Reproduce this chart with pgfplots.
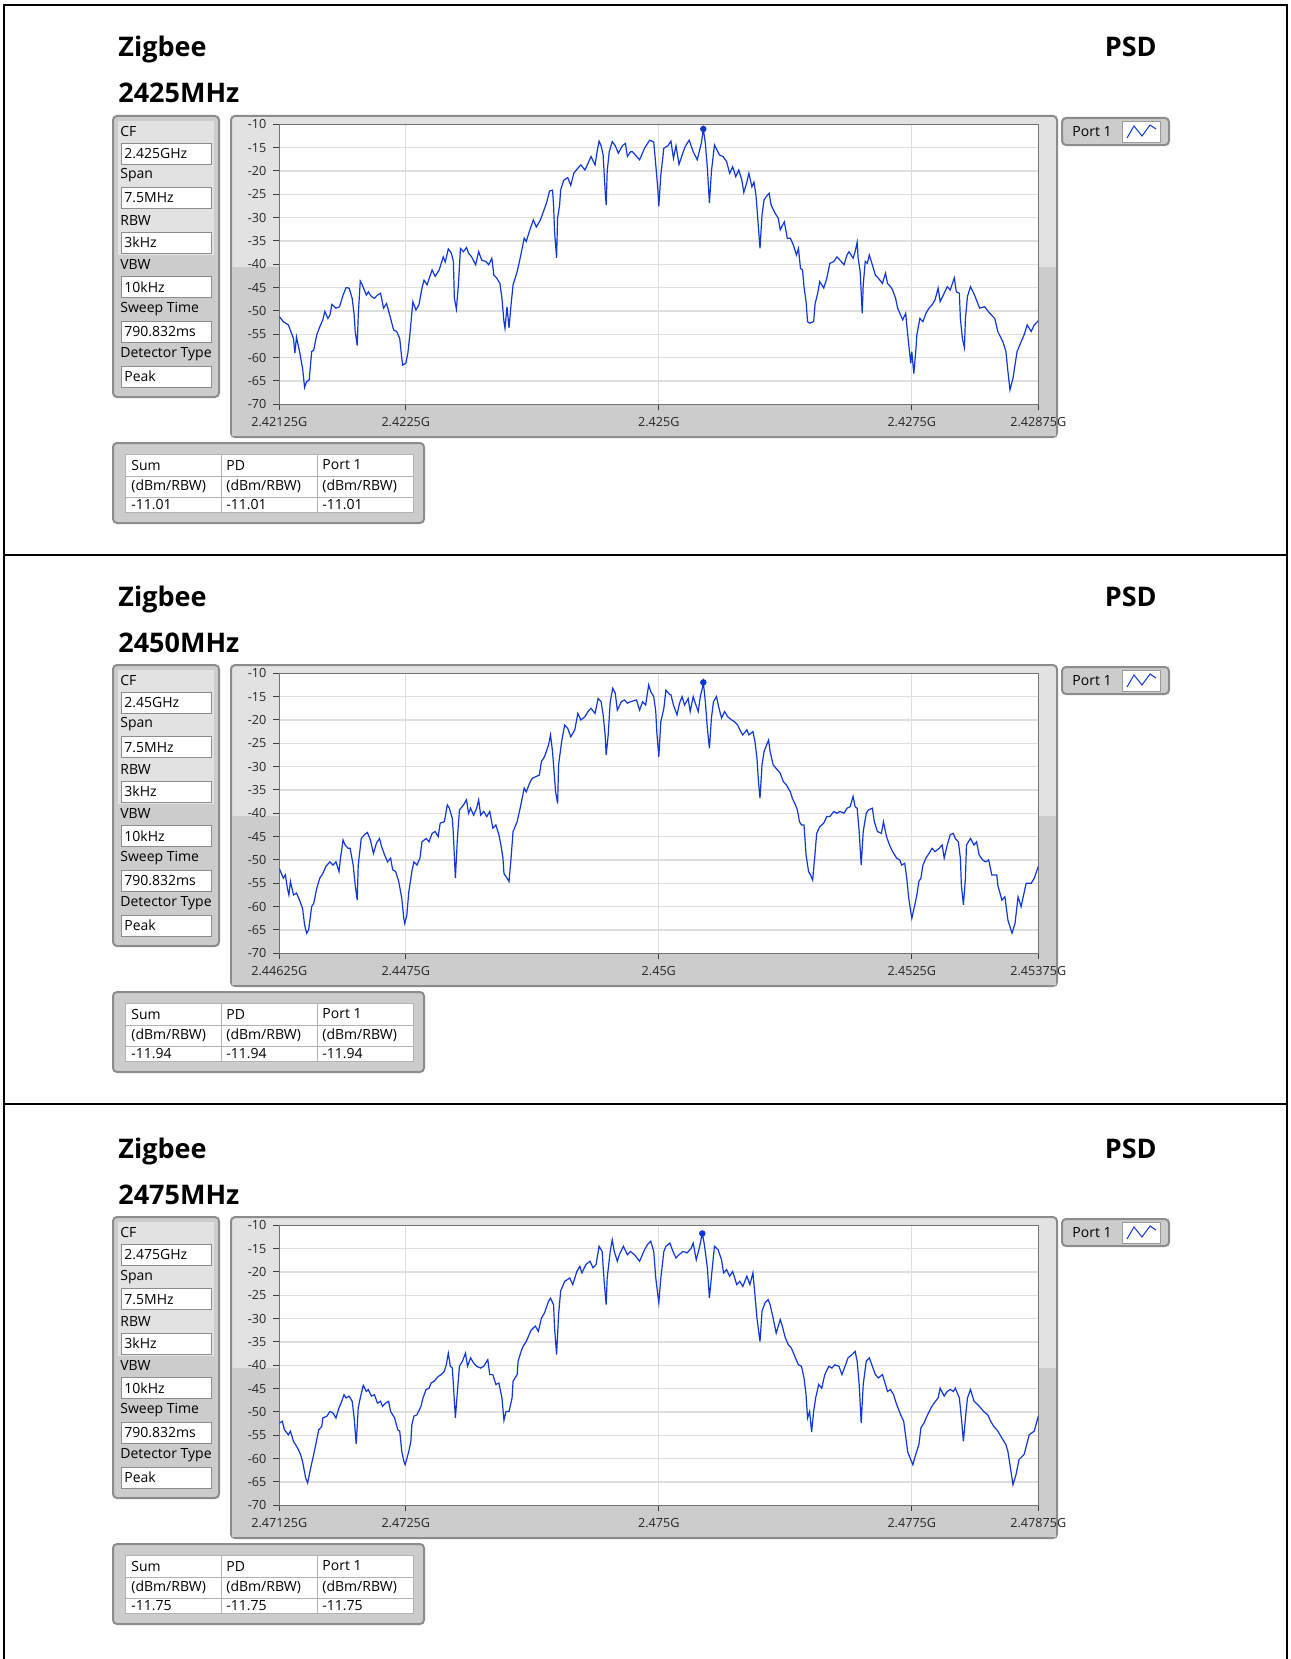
\documentclass[border=0pt]{standalone}
\usepackage{fontspec}
\setmainfont{Open Sans}
\usepackage{pgfplots}
\usepackage{pgfplotstable}
\pgfplotsset{compat=1.18}

\definecolor{trace}{RGB}{15,55,215}
\definecolor{gridc}{RGB}{222,222,222}
\definecolor{framed}{RGB}{140,140,140}
\definecolor{panlight}{RGB}{226,226,226}
\definecolor{pandark}{RGB}{204,204,204}

\newcommand{\smallf}{\fontsize{7}{8.5}\selectfont}
\newcommand{\tickf}{\fontsize{6.3}{7.5}\selectfont}
\newcommand{\titlef}{\fontsize{13.5}{16}\selectfont\bfseries}

% 2425 MHz, f = offset from CF in MHz, p = dBm/RBW
\pgfplotstableread{
f p
-3.75 -51.2
-3.71 -52.3
-3.66 -53.0
-3.61 -55.9
-3.596 -59.0
-3.58 -55.6
-3.55 -58.7
-3.52 -62.3
-3.50 -66.4
-3.48 -65.1
-3.455 -64.8
-3.43 -58.7
-3.41 -58.4
-3.38 -55.1
-3.35 -53.4
-3.32 -51.9
-3.30 -50.1
-3.27 -51.6
-3.25 -50.9
-3.23 -48.6
-3.19 -49.4
-3.155 -49.1
-3.12 -46.6
-3.09 -45.0
-3.06 -45.1
-3.03 -47.3
-3.01 -50.9
-3.00 -54.4
-2.98 -57.4
-2.97 -50.9
-2.95 -43.6
-2.93 -44.4
-2.89 -46.6
-2.87 -45.9
-2.84 -46.9
-2.81 -47.3
-2.78 -46.6
-2.75 -46.2
-2.72 -49.4
-2.69 -48.4
-2.65 -51.6
-2.62 -54.1
-2.59 -54.4
-2.56 -55.9
-2.54 -60.1
-2.53 -61.6
-2.50 -61.2
-2.48 -59.1
-2.46 -55.1
-2.43 -48.0
-2.40 -49.8
-2.37 -48.7
-2.34 -45.1
-2.32 -43.4
-2.29 -44.4
-2.24 -41.2
-2.21 -42.6
-2.17 -41.2
-2.13 -38.4
-2.11 -39.5
-2.08 -36.7
-2.05 -37.6
-2.03 -39.4
-2.02 -47.3
-2.00 -49.6
-1.98 -44.4
-1.96 -36.6
-1.93 -37.3
-1.90 -36.4
-1.88 -37.6
-1.85 -38.4
-1.81 -40.1
-1.78 -37.3
-1.75 -39.1
-1.71 -39.4
-1.68 -40.1
-1.65 -38.7
-1.63 -42.3
-1.60 -43.0
-1.57 -44.1
-1.55 -47.3
-1.53 -52.3
-1.52 -53.7
-1.50 -49.1
-1.48 -53.6
-1.46 -48.7
-1.44 -44.4
-1.40 -41.6
-1.37 -38.7
-1.33 -34.4
-1.31 -35.1
-1.28 -33.0
-1.24 -30.5
-1.21 -32.0
-1.17 -30.5
-1.14 -28.7
-1.11 -26.9
-1.08 -24.3
-1.05 -24.1
-1.04 -27.3
-1.03 -33.0
-1.01 -38.6
-1.00 -30.1
-0.98 -27.3
-0.97 -24.1
-0.94 -22.0
-0.90 -21.4
-0.87 -23.1
-0.84 -20.5
-0.80 -19.4
-0.77 -18.7
-0.73 -19.8
-0.70 -18.4
-0.67 -16.9
-0.63 -18.7
-0.61 -15.9
-0.59 -13.6
-0.57 -14.6
-0.55 -16.6
-0.53 -24.4
-0.52 -27.3
-0.51 -20.1
-0.49 -15.9
-0.46 -13.7
-0.43 -14.6
-0.40 -16.2
-0.36 -14.6
-0.33 -14.1
-0.31 -16.9
-0.28 -15.9
-0.26 -15.9
-0.19 -17.6
-0.14 -15.1
-0.09 -13.4
-0.05 -13.8
-0.03 -18.7
-0.01 -23.7
0.00 -27.6
0.02 -20.9
0.05 -15.1
0.09 -14.6
0.12 -13.6
0.145 -17.3
0.17 -14.6
0.20 -18.6
0.23 -16.6
0.26 -14.8
0.30 -13.4
0.34 -15.9
0.38 -17.6
0.42 -14.1
0.44 -11.0
0.46 -14.1
0.48 -19.4
0.50 -26.9
0.52 -20.1
0.55 -14.4
0.60 -16.6
0.635 -16.9
0.67 -18.0
0.70 -20.5
0.73 -19.1
0.76 -21.2
0.79 -19.8
0.82 -21.9
0.84 -24.6
0.87 -22.4
0.89 -20.5
0.92 -23.4
0.94 -22.4
0.96 -25.1
0.975 -29.4
1.00 -36.6
1.02 -29.4
1.04 -26.2
1.065 -25.4
1.09 -24.8
1.11 -27.3
1.15 -29.1
1.18 -30.1
1.20 -32.6
1.24 -30.9
1.27 -34.4
1.30 -34.4
1.33 -35.9
1.36 -38.0
1.38 -36.6
1.40 -40.9
1.42 -41.2
1.435 -44.8
1.455 -48.0
1.47 -52.3
1.49 -52.6
1.53 -52.3
1.545 -48.4
1.57 -46.2
1.59 -43.7
1.63 -45.1
1.66 -43.0
1.69 -39.8
1.73 -39.4
1.76 -38.4
1.79 -39.1
1.83 -40.1
1.86 -38.0
1.88 -37.3
1.92 -38.7
1.94 -37.3
1.96 -35.3
1.97 -38.7
1.99 -41.6
2.01 -50.5
2.02 -44.4
2.04 -39.4
2.06 -39.8
2.08 -38.0
2.11 -40.1
2.14 -42.3
2.17 -43.0
2.21 -44.1
2.24 -41.9
2.26 -44.1
2.29 -44.8
2.31 -45.5
2.34 -47.3
2.36 -49.4
2.39 -50.9
2.41 -51.9
2.44 -50.5
2.45 -53.0
2.47 -57.3
2.49 -61.2
2.50 -58.7
2.52 -63.4
2.54 -58.4
2.55 -55.1
2.58 -51.6
2.61 -52.3
2.64 -50.5
2.67 -49.4
2.70 -48.7
2.73 -47.6
2.76 -45.1
2.78 -48.0
2.82 -46.2
2.85 -44.8
2.88 -45.5
2.92 -42.9
2.94 -45.9
2.97 -46.2
2.98 -51.6
3.00 -55.9
3.02 -57.9
3.03 -51.6
3.05 -46.9
3.08 -44.8
3.12 -46.6
3.17 -49.4
3.22 -49.1
3.27 -50.5
3.32 -51.6
3.35 -54.4
3.40 -56.6
3.43 -58.7
3.45 -63.0
3.47 -66.9
3.50 -64.4
3.54 -58.7
3.58 -56.6
3.61 -55.1
3.64 -53.0
3.68 -54.4
3.71 -53.0
3.75 -52.1
}\psdA

% 2450 MHz
\pgfplotstableread{
f p
-3.75 -51.8
-3.73 -52.9
-3.71 -53.9
-3.69 -53.2
-3.67 -56.1
-3.655 -57.5
-3.64 -54.6
-3.61 -57.5
-3.58 -57.1
-3.55 -58.6
-3.52 -60.4
-3.50 -63.9
-3.48 -65.7
-3.46 -65.0
-3.43 -60.0
-3.41 -59.3
-3.38 -56.1
-3.35 -53.9
-3.32 -52.9
-3.29 -51.4
-3.25 -50.4
-3.22 -51.1
-3.19 -50.4
-3.16 -52.5
-3.145 -49.6
-3.12 -45.7
-3.10 -46.8
-3.07 -47.5
-3.05 -47.5
-3.02 -51.1
-3.00 -55.4
-2.98 -58.6
-2.97 -51.1
-2.94 -45.4
-2.91 -44.6
-2.88 -44.1
-2.85 -45.7
-2.82 -48.6
-2.79 -46.4
-2.76 -45.4
-2.74 -47.1
-2.71 -48.9
-2.68 -50.4
-2.65 -49.6
-2.63 -52.1
-2.60 -52.5
-2.57 -54.6
-2.54 -58.2
-2.52 -62.5
-2.51 -63.6
-2.49 -61.8
-2.47 -56.8
-2.44 -52.5
-2.42 -50.4
-2.39 -51.1
-2.36 -49.6
-2.34 -46.1
-2.30 -45.4
-2.27 -46.1
-2.24 -44.3
-2.21 -43.9
-2.18 -45.0
-2.16 -42.1
-2.12 -41.8
-2.11 -40.7
-2.09 -38.2
-2.07 -38.9
-2.04 -41.1
-2.03 -44.6
-2.01 -53.9
-1.99 -45.4
-1.97 -39.3
-1.93 -38.2
-1.90 -37.1
-1.88 -40.0
-1.86 -38.9
-1.83 -40.4
-1.80 -38.9
-1.78 -37.1
-1.76 -40.4
-1.73 -39.6
-1.70 -40.7
-1.67 -39.6
-1.64 -43.2
-1.61 -42.5
-1.58 -44.6
-1.56 -46.8
-1.54 -49.6
-1.53 -52.9
-1.50 -53.9
-1.48 -54.6
-1.46 -49.6
-1.44 -43.9
-1.40 -41.8
-1.37 -38.9
-1.33 -34.6
-1.31 -35.4
-1.27 -33.2
-1.25 -32.5
-1.21 -32.1
-1.18 -31.8
-1.16 -28.9
-1.13 -27.9
-1.09 -25.4
-1.07 -23.2
-1.05 -26.8
-1.04 -29.6
-1.02 -35.4
-1.00 -37.9
-0.99 -29.6
-0.96 -24.6
-0.93 -21.1
-0.90 -21.8
-0.87 -23.6
-0.83 -22.1
-0.80 -18.6
-0.77 -20.0
-0.73 -19.3
-0.70 -18.2
-0.67 -17.5
-0.63 -18.6
-0.60 -15.4
-0.57 -16.1
-0.55 -18.9
-0.53 -23.2
-0.52 -27.5
-0.50 -23.2
-0.48 -16.1
-0.455 -13.2
-0.43 -14.3
-0.41 -17.9
-0.37 -16.1
-0.34 -15.7
-0.31 -16.4
-0.28 -16.1
-0.22 -15.7
-0.19 -17.9
-0.16 -16.1
-0.13 -16.8
-0.10 -12.5
-0.08 -13.9
-0.05 -15.0
-0.03 -18.2
-0.02 -22.5
0.00 -27.9
0.02 -20.4
0.05 -17.5
0.07 -13.6
0.11 -14.6
0.12 -14.6
0.145 -16.8
0.18 -18.9
0.205 -16.4
0.23 -15.0
0.255 -16.8
0.29 -15.4
0.31 -18.2
0.34 -15.0
0.36 -16.4
0.39 -18.2
0.41 -15.0
0.43 -13.2
0.44 -11.94
0.46 -16.1
0.48 -21.8
0.50 -26.1
0.52 -19.6
0.54 -16.1
0.57 -15.0
0.595 -17.5
0.62 -19.6
0.65 -18.2
0.68 -19.3
0.72 -20.0
0.75 -20.4
0.78 -21.1
0.81 -22.5
0.83 -23.2
0.87 -22.1
0.89 -23.2
0.93 -22.5
0.95 -24.6
0.97 -28.2
0.985 -33.2
1.00 -36.8
1.02 -29.6
1.04 -26.8
1.065 -25.4
1.085 -24.3
1.10 -26.8
1.13 -29.6
1.16 -30.4
1.20 -31.4
1.23 -33.2
1.26 -33.9
1.30 -35.4
1.32 -36.8
1.35 -38.2
1.37 -39.3
1.39 -41.8
1.41 -42.5
1.435 -42.5
1.455 -48.9
1.48 -52.5
1.50 -53.2
1.52 -54.3
1.54 -49.6
1.56 -44.3
1.59 -42.9
1.63 -42.1
1.66 -40.7
1.69 -40.7
1.73 -39.6
1.76 -40.0
1.79 -39.6
1.83 -40.0
1.86 -38.9
1.89 -38.6
1.92 -36.4
1.94 -38.6
1.96 -38.9
1.98 -43.9
2.00 -51.1
2.02 -43.9
2.05 -40.0
2.07 -39.3
2.11 -38.9
2.13 -41.8
2.16 -43.9
2.20 -44.3
2.22 -41.8
2.25 -45.0
2.28 -46.8
2.31 -48.2
2.35 -49.6
2.38 -50.0
2.40 -51.1
2.43 -50.7
2.45 -53.9
2.47 -58.2
2.49 -61.1
2.50 -62.5
2.53 -59.6
2.55 -57.5
2.57 -54.6
2.59 -53.9
2.61 -51.1
2.64 -49.6
2.67 -48.6
2.70 -47.5
2.73 -48.2
2.77 -47.5
2.80 -46.8
2.82 -49.6
2.85 -46.8
2.88 -44.6
2.91 -44.3
2.93 -45.4
2.96 -46.1
2.98 -49.6
2.99 -55.4
3.01 -59.6
3.03 -53.9
3.04 -46.8
3.08 -45.4
3.115 -46.8
3.14 -46.1
3.165 -48.9
3.20 -50.0
3.23 -50.4
3.26 -50.0
3.29 -53.2
3.34 -53.2
3.35 -55.4
3.39 -58.6
3.42 -57.9
3.45 -62.9
3.49 -65.7
3.52 -63.6
3.55 -57.9
3.58 -60.0
3.63 -55.0
3.68 -55.0
3.71 -53.9
3.75 -51.4
}\psdB

% 2475 MHz
\pgfplotstableread{
f p
-3.75 -52.4
-3.72 -52.0
-3.70 -53.8
-3.66 -54.9
-3.64 -54.1
-3.61 -56.3
-3.57 -57.7
-3.54 -59.1
-3.52 -60.6
-3.49 -64.1
-3.47 -65.2
-3.44 -62.0
-3.41 -59.1
-3.39 -57.0
-3.36 -53.8
-3.33 -53.1
-3.32 -51.3
-3.28 -50.9
-3.25 -49.9
-3.22 -50.2
-3.19 -51.3
-3.16 -49.1
-3.14 -48.1
-3.11 -46.3
-3.09 -47.0
-3.06 -46.6
-3.03 -47.7
-3.01 -51.3
-2.99 -56.9
-2.97 -49.1
-2.95 -47.0
-2.92 -44.3
-2.89 -45.6
-2.87 -45.2
-2.84 -46.6
-2.81 -46.3
-2.78 -48.1
-2.75 -47.7
-2.73 -48.8
-2.70 -48.1
-2.67 -47.7
-2.65 -49.9
-2.61 -51.3
-2.58 -53.8
-2.56 -54.1
-2.54 -58.4
-2.52 -60.5
-2.506 -61.3
-2.47 -58.4
-2.45 -56.3
-2.44 -52.7
-2.42 -50.9
-2.39 -50.6
-2.35 -48.8
-2.33 -47.0
-2.30 -45.2
-2.27 -44.9
-2.25 -43.8
-2.22 -43.4
-2.18 -42.4
-2.15 -42.0
-2.12 -41.3
-2.10 -39.9
-2.08 -37.4
-2.06 -40.2
-2.04 -40.6
-2.03 -44.1
-2.01 -51.3
-1.99 -45.6
-1.97 -40.2
-1.94 -39.1
-1.91 -37.4
-1.89 -40.2
-1.86 -38.4
-1.83 -39.5
-1.80 -40.2
-1.76 -40.6
-1.73 -40.2
-1.69 -38.8
-1.67 -42.0
-1.64 -42.0
-1.61 -44.1
-1.58 -43.8
-1.55 -47.0
-1.53 -51.8
-1.51 -49.9
-1.48 -49.9
-1.45 -47.0
-1.44 -43.4
-1.40 -42.0
-1.39 -39.1
-1.36 -37.0
-1.34 -35.9
-1.31 -34.9
-1.28 -33.4
-1.26 -32.4
-1.22 -31.6
-1.19 -32.7
-1.16 -29.9
-1.13 -28.8
-1.09 -26.3
-1.07 -25.6
-1.04 -27.0
-1.03 -32.0
-1.01 -37.7
-0.99 -29.1
-0.97 -24.1
-0.93 -22.0
-0.88 -21.3
-0.85 -22.7
-0.81 -19.9
-0.78 -18.8
-0.76 -20.2
-0.72 -18.4
-0.68 -17.7
-0.65 -19.1
-0.62 -18.4
-0.59 -14.5
-0.56 -15.6
-0.54 -22.0
-0.52 -27.0
-0.51 -21.3
-0.48 -15.6
-0.46 -13.1
-0.44 -15.6
-0.41 -17.7
-0.39 -16.3
-0.35 -14.5
-0.31 -16.3
-0.28 -15.6
-0.24 -16.3
-0.19 -17.7
-0.14 -15.2
-0.11 -14.1
-0.08 -13.4
-0.05 -15.6
-0.03 -21.3
0.00 -26.6
0.02 -21.3
0.05 -15.6
0.07 -14.5
0.11 -13.8
0.14 -15.6
0.17 -17.0
0.20 -16.3
0.24 -15.6
0.28 -15.9
0.32 -14.9
0.34 -13.8
0.37 -17.4
0.40 -14.9
0.43 -11.75
0.45 -14.1
0.48 -19.1
0.50 -25.6
0.53 -18.8
0.55 -14.5
0.585 -15.2
0.62 -17.4
0.64 -20.2
0.67 -19.5
0.70 -20.9
0.73 -19.9
0.77 -22.7
0.80 -22.0
0.83 -23.1
0.87 -20.9
0.90 -22.7
0.93 -20.2
0.95 -24.9
0.97 -29.9
1.00 -34.9
1.02 -28.4
1.05 -26.6
1.08 -25.9
1.10 -27.0
1.13 -29.9
1.16 -33.1
1.20 -30.2
1.22 -31.6
1.25 -34.1
1.28 -35.6
1.31 -36.3
1.35 -38.4
1.38 -39.9
1.41 -40.2
1.435 -42.7
1.455 -46.3
1.47 -51.3
1.49 -49.9
1.51 -54.3
1.53 -49.9
1.55 -47.0
1.58 -44.1
1.61 -44.9
1.64 -42.0
1.68 -40.2
1.71 -40.6
1.74 -39.9
1.78 -40.2
1.81 -42.0
1.84 -40.2
1.87 -38.4
1.91 -37.7
1.94 -37.0
1.96 -39.1
1.98 -44.1
2.00 -52.4
2.02 -44.1
2.05 -39.1
2.08 -38.4
2.11 -40.2
2.14 -42.0
2.17 -42.7
2.21 -42.0
2.23 -43.4
2.26 -45.6
2.29 -45.2
2.32 -46.3
2.35 -48.4
2.39 -50.6
2.42 -52.0
2.46 -58.6
2.51 -61.3
2.54 -59.0
2.57 -57.0
2.59 -53.4
2.62 -52.4
2.65 -50.9
2.69 -49.1
2.72 -48.1
2.76 -47.0
2.78 -44.9
2.82 -46.6
2.85 -45.6
2.88 -45.2
2.91 -45.6
2.93 -44.9
2.97 -47.0
2.99 -51.3
3.01 -56.3
3.03 -51.3
3.05 -47.0
3.08 -45.2
3.115 -47.7
3.15 -48.4
3.18 -49.1
3.21 -49.9
3.25 -50.6
3.28 -52.0
3.31 -53.1
3.35 -54.1
3.38 -55.2
3.43 -57.0
3.45 -58.5
3.47 -61.3
3.50 -65.6
3.53 -63.4
3.56 -60.2
3.61 -59.1
3.66 -54.9
3.71 -54.1
3.75 -50.9
}\psdC

\pgfplotsset{psd/.style={
  anchor=north west, scale only axis,
  width=379.5pt, height=140pt,
  xmin=-3.75, xmax=3.75, ymin=-70, ymax=-10,
  xtick={-3.75,-2.5,0,2.5,3.75},
  ytick={-70,-65,...,-10},
  xmajorgrids, ymajorgrids,
  major grid style={draw=gridc, line width=0.6pt},
  tick align=outside, major tick length=3pt, tick pos=left,
  tick style={draw=black!75, line width=0.5pt},
  axis line style={draw=black!55, line width=0.5pt},
  tick label style={font=\tickf, text=black!85},
  /pgf/number format/assume math mode=true,
  axis background/.style={fill=white},
}}

% decorations of one panel: #1 y shift, #2 title freq, #3 CF, #4 peak value
\newcommand{\panel}[4]{%
\begin{scope}[yshift=#1]
\begin{scope}[x=0.5pt,y=-0.5pt]
  \node[anchor=base west,font=\titlef,inner sep=0] at (118,57) {Zigbee};
  \node[anchor=base west,font=\titlef,inner sep=0] at (118,103) {#2};
  \node[anchor=base east,font=\titlef,inner sep=0] at (1157,57) {PSD};
  % settings box
  \draw[draw=framed,fill=pandark,rounded corners=2pt,line width=1pt] (113,116) rectangle (219,397);
  \fill[panlight] (118,121) rectangle (214,255);
  \foreach \lab/\val [count=\i from 0] in {CF/#3,Span/7.5MHz,RBW/3kHz,VBW/10kHz,Sweep Time/790.832ms,Detector Type/Peak}{
    \node[anchor=west,font=\smallf,inner sep=0] at (120,{131+44.6*\i}) {\lab};
    \draw[draw=black!45,fill=white] (121,{143+44.6*\i}) rectangle (211,{164+44.6*\i});
    \node[anchor=west,font=\smallf,inner sep=0] at (124,{153.5+44.6*\i}) {\val};
  }
  % graph frame
  \draw[draw=framed,fill=panlight,rounded corners=2pt,line width=1pt] (231,116) rectangle (1057,437);
  \fill[pandark] (232,267) rectangle (279,436);
  \fill[pandark] (1038,267) rectangle (1056,436);
  \fill[pandark] (232,404) rectangle (1056,436);
  % legend
  \draw[draw=framed,fill=pandark,rounded corners=2pt,line width=1pt] (1062,118) rectangle (1169,145);
  \node[anchor=west,font=\smallf,inner sep=0] at (1072,131.5) {Port 1};
  \draw[draw=black!40,fill=white] (1122,121) rectangle (1160,142);
  \draw[trace,line width=0.5pt] (1127,138)--(1134,126)--(1142,136)--(1150,125)--(1156,129);
  % readout table
  \draw[draw=framed,fill=pandark,rounded corners=2pt,line width=1pt] (113,443) rectangle (424,523);
  \draw[draw=black!30,fill=white] (125,454) rectangle (413,512);
  \draw[black!30] (125,476)--(413,476) (125,497)--(413,497) (221,454)--(221,512) (317,454)--(317,512);
  \foreach \c/\x in {Sum/131,PD/226,Port 1/322}{
    \node[anchor=west,font=\smallf,inner sep=0] at (\x,465) {\c};
    \node[anchor=west,font=\smallf,inner sep=0] at (\x,486.5) {(dBm/RBW)};
    \node[anchor=west,font=\smallf,inner sep=0] at (\x,504.5) {#4};
  }
\end{scope}
\end{scope}}

\begin{document}
\begin{tikzpicture}
\begin{scope}[x=0.5pt,y=-0.5pt]
  \useasboundingbox (0,0) rectangle (1290,1659);
  \fill[white] (0,0) rectangle (1290,1659);
  \draw[line width=1pt] (4,1670) -- (4,5) -- (1287,5) -- (1287,1670);
  \draw[line width=1pt] (4,555) -- (1287,555) (4,1104) -- (1287,1104);
\end{scope}

\panel{0pt}{2425MHz}{2.425GHz}{-11.01}
\panel{-274.5pt}{2450MHz}{2.45GHz}{-11.94}
\panel{-550.5pt}{2475MHz}{2.475GHz}{-11.75}

\begin{axis}[psd, at={(139.65pt,-62.15pt)},
  xticklabels={2.42125G,2.4225G,2.425G,2.4275G,2.42875G}]
  \addplot[trace, line width=0.6pt] table[x=f,y=p] {\psdA};
  \addplot[trace, only marks, mark=*, mark size=1.4pt] coordinates {(0.44,-11.01)};
\end{axis}

\begin{axis}[psd, at={(139.65pt,-336.65pt)},
  xticklabels={2.44625G,2.4475G,2.45G,2.4525G,2.45375G}]
  \addplot[trace, line width=0.6pt] table[x=f,y=p] {\psdB};
  \addplot[trace, only marks, mark=*, mark size=1.4pt] coordinates {(0.44,-11.94)};
\end{axis}

\begin{axis}[psd, at={(139.65pt,-612.65pt)},
  xticklabels={2.47125G,2.4725G,2.475G,2.4775G,2.47875G}]
  \addplot[trace, line width=0.6pt] table[x=f,y=p] {\psdC};
  \addplot[trace, only marks, mark=*, mark size=1.4pt] coordinates {(0.43,-11.75)};
\end{axis}
\end{tikzpicture}
\end{document}
